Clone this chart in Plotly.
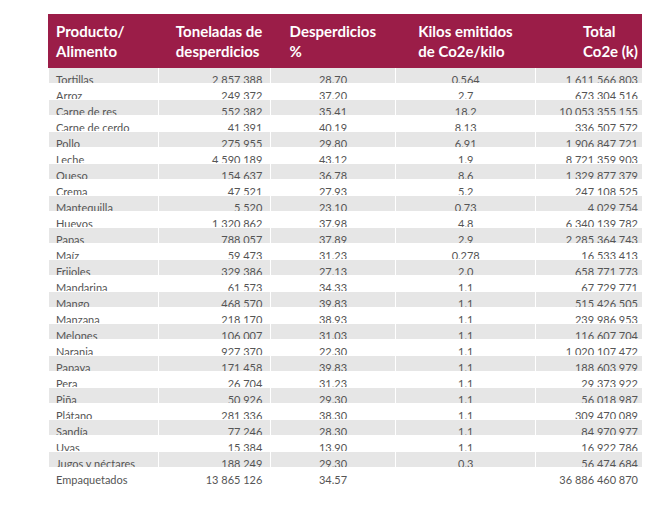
import plotly.graph_objects as go

productos = ["Tortillas", "Arroz", "Carne de res", "Carne de cerdo", "Pollo", "Leche", "Queso",
             "Crema", "Mantequilla", "Huevos", "Papas", "Maíz", "Frijoles", "Mandarina", "Mango",
             "Manzana", "Melones", "Naranja", "Papaya", "Pera", "Piña", "Plátano", "Sandía", "Uvas",
             "Jugos y néctares", "Empaquetados"]
toneladas = ["2 857 388", "249 372", "552 382", "41 391", "275 955", "4 590 189", "154 637",
             "47 521", "5 520", "1 320 862", "788 057", "59 473", "329 386", "61 573", "468 570",
             "218 170", "106 007", "927 370", "171 458", "26 704", "50 926", "281 336", "77 246",
             "15 384", "188 249", "13 865 126"]
desperdicio_pct = ["28.70", "37.20", "35.41", "40.19", "29.80", "43.12", "36.78", "27.93", "23.10",
                   "37.98", "37.89", "31.23", "27.13", "34.33", "39.83", "38.93", "31.03", "22.30",
                   "39.83", "31.23", "29.30", "38.30", "28.30", "13.90", "29.30", "34.57"]
kilos_co2e = ["0.564", "2.7", "18.2", "8.13", "6.91", "1.9", "8.6", "5.2", "0.73", "4.8", "2.9",
              "0.278", "2.0", "1.1", "1.1", "1.1", "1.1", "1.1", "1.1", "1.1", "1.1", "1.1", "1.1",
              "1.1", "0.3", ""]
total_co2e = ["1 611 566 803", "673 304 516", "10 053 355 155", "336 507 572", "1 906 847 721",
              "8 721 359 903", "1 329 877 379", "247 108 525", "4 029 754", "6 340 139 782",
              "2 285 364 743", "16 533 413", "658 771 773", "67 729 771", "515 426 505",
              "239 986 953", "116 607 704", "1 020 107 472", "188 603 979", "29 373 922",
              "56 018 987", "309 470 089", "84 970 977", "16 922 786", "56 474 684",
              "36 886 460 870"]
encabezados = ["Producto/<br>Alimento", "Toneladas de<br>desperdicios", "Desperdicios<br>%",
               "Kilos emitidos<br>de Co2e/kilo", "Total<br>Co2e (k)"]

n = len(productos)
fills = ["#E6E6E6" if i % 2 == 0 and i < n - 1 else "white" for i in range(n)]

fig = go.Figure(go.Table(
    columnwidth=[110, 112, 125, 140, 110],
    header=dict(
        values=[f"<b>{h}</b>" for h in encabezados],
        fill_color="#9B1D48",
        line=dict(color="#9B1D48", width=1),
        font=dict(family="Lato", size=15, color="white"),
        align=["left", "right", "center", "center", "right"],
        height=48,
    ),
    cells=dict(
        values=[productos, toneladas, desperdicio_pct, kilos_co2e, total_co2e],
        fill_color=[fills] * 5,
        line=dict(color="white", width=1),
        font=dict(family="Lato", size=11, color="#555555"),
        align=["left", "right", "center", "center", "right"],
        height=16,
    ),
    domain=dict(x=[40 / 650, 638 / 650], y=[0, 1 - 6 / 512]),
))
fig.update_layout(width=650, height=512, margin=dict(l=0, r=0, t=0, b=0),
                  paper_bgcolor="white")
fig.write_html("out.html")
